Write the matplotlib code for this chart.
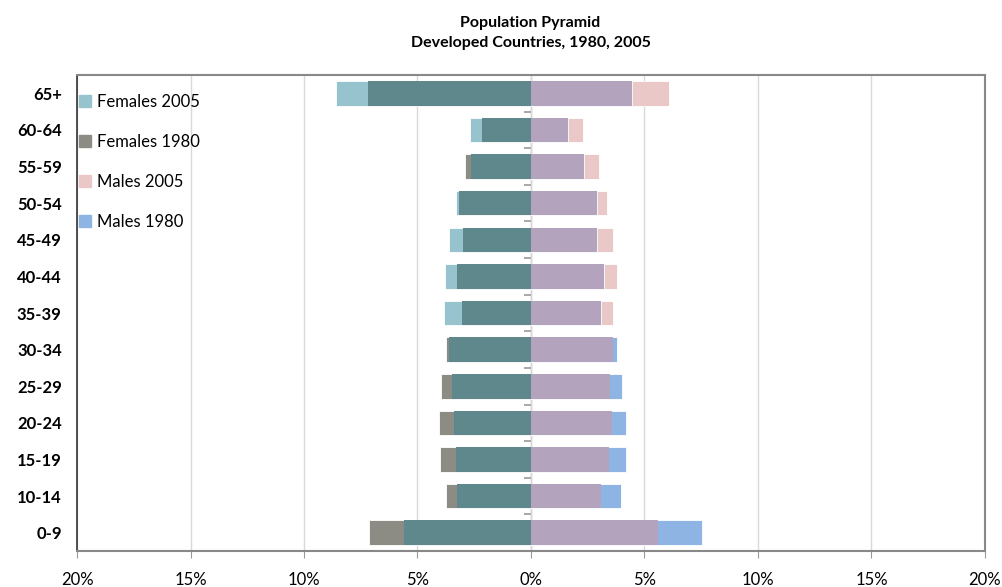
import numpy as np
import matplotlib.pyplot as plt
from matplotlib.patches import Patch

ages = ['65+', '60-64', '55-59', '50-54', '45-49', '40-44', '35-39',
        '30-34', '25-29', '20-24', '15-19', '10-14', '0-9']
females_2005 = [8.6, 2.7, 2.65, 3.3, 3.6, 3.8, 3.85, 3.6, 3.5, 3.4, 3.3, 3.25, 5.6]
females_1980 = [7.2, 2.15, 2.9, 3.15, 3.0, 3.25, 3.05, 3.75, 3.95, 4.05, 4.0, 3.75, 7.15]
males_2005 = [6.1, 2.3, 3.0, 3.35, 3.6, 3.8, 3.6, 3.6, 3.5, 3.55, 3.45, 3.1, 5.6]
males_1980 = [4.45, 1.65, 2.35, 2.9, 2.9, 3.2, 3.1, 3.8, 4.0, 4.2, 4.2, 3.95, 7.55]

c_f05 = '#97c3cf'
c_f80 = '#8c8b84'
c_fov = '#5e888c'
c_m05 = '#ebc8c8'
c_m80 = '#8db4e3'
c_mov = '#b3a3bd'

plt.rcParams['font.family'] = ['Lato', 'DejaVu Sans']

fig = plt.figure(figsize=(10.03, 5.87), dpi=100)
ax = fig.add_axes([0.0768, 0.0613, 0.9052, 0.8109])

y = np.arange(len(ages))
h = 0.67
f05 = -np.array(females_2005)
f80 = -np.array(females_1980)
m05 = np.array(males_2005)
m80 = np.array(males_1980)

ax.barh(y, f05, h, color=c_f05, edgecolor='white', linewidth=0.6, zorder=2)
ax.barh(y, f80, h, color=c_f80, edgecolor='white', linewidth=0.6, zorder=2)
ax.barh(y, np.maximum(f05, f80), h, color=c_fov, zorder=3)
ax.barh(y, m05, h, color=c_m05, edgecolor='white', linewidth=0.6, zorder=2)
ax.barh(y, m80, h, color=c_m80, edgecolor='white', linewidth=0.6, zorder=2)
ax.barh(y, np.minimum(m05, m80), h, color=c_mov, zorder=3)

ax.set_xlim(-20, 20)
ax.set_ylim(len(ages) - 0.5, -0.5)
ax.set_xticks(np.arange(-20, 21, 5))
ax.set_xticklabels([f'{abs(v)}%' for v in range(-20, 21, 5)], fontsize=12)
ax.set_yticks(y)
ax.set_yticklabels(ages, fontsize=12, fontweight='bold')
ax.tick_params(axis='y', length=0, pad=11)
ax.tick_params(axis='x', length=5, color='#999999', pad=10)
ax.grid(axis='x', color='#d9d9d9', linewidth=1, zorder=0)

for s in ['top', 'right', 'bottom']:
    ax.spines[s].set_color('#888888')
    ax.spines[s].set_linewidth(1.5)
ax.spines['left'].set_color('#333333')
ax.spines['left'].set_linewidth(1.2)

# axis at zero with small ticks between categories
sec = ax.secondary_yaxis(0.5)
sec.set_yticks(np.arange(len(ages) + 1) - 0.5)
sec.set_yticklabels([])
sec.tick_params(length=5, color='#999999', width=1.2, direction='in')
sec.spines['left'].set_color('#888888')
sec.spines['left'].set_linewidth(1.2)

handles = [Patch(color=c_f05), Patch(color=c_f80), Patch(color=c_m05), Patch(color=c_m80)]
ax.legend(handles, ['Females 2005', 'Females 1980', 'Males 2005', 'Males 1980'],
          loc='upper left', bbox_to_anchor=(-0.005, 0.975), frameon=False,
          fontsize=12, handlelength=0.7, handleheight=0.7, handletextpad=0.4,
          labelspacing=1.44, borderaxespad=0)

fig.suptitle('Population Pyramid\nDeveloped Countries, 1980, 2005',
             x=0.529, y=0.973, fontsize=11.5, fontweight='bold', linespacing=1.6)

fig.savefig('out.png', dpi=100)
